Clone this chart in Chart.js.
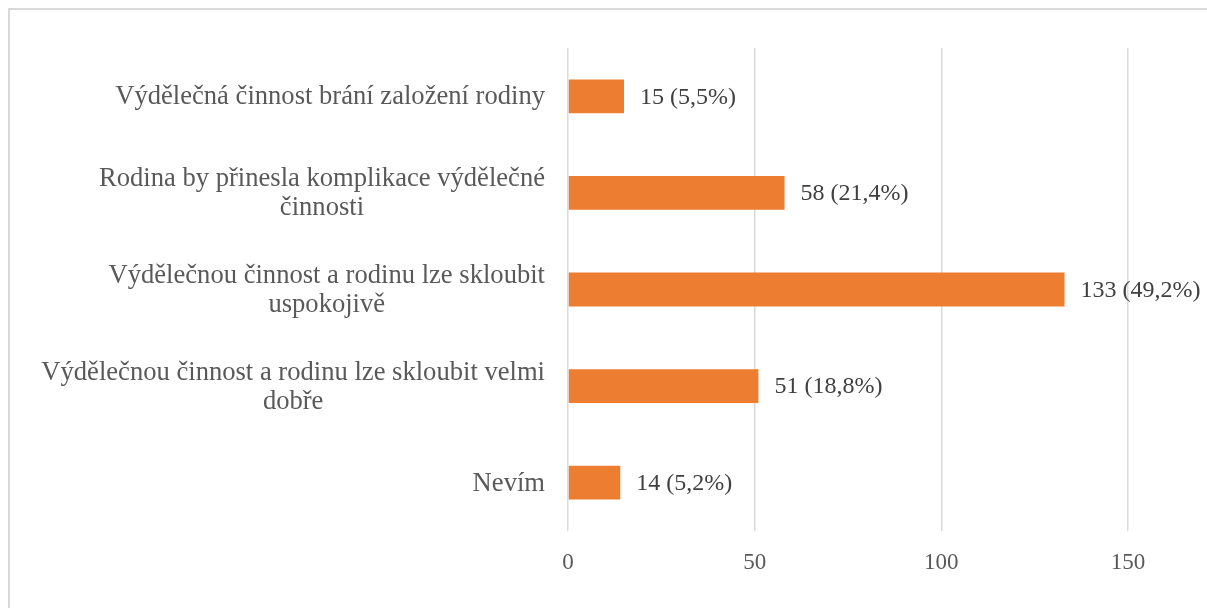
<!DOCTYPE html>
<html>
<head>
<meta charset="utf-8">
<script src="https://cdn.jsdelivr.net/npm/chart.js@4.4.1/dist/chart.umd.min.js"></script>
<style>
  html, body { margin: 0; padding: 0; background: #fff; }
  #wrap { position: relative; width: 1207px; height: 608px; }
  #frame { position: absolute; left: 8px; top: 8px; width: 1210px; height: 620px;
           border-left: 2px solid #d9d9d9; border-top: 2px solid #d9d9d9; box-sizing: border-box; }
  canvas { position: absolute; left: 0; top: 0; }
</style>
</head>
<body>
<div id="wrap">
  <div id="frame"></div>
  <canvas id="chart" width="1207" height="608"></canvas>
</div>
<script>
// kategorie (shora dolu)
var labels = [
	["Výdělečná činnost brání založení rodiny"],
	["Rodina by přinesla komplikace výdělečné", "činnosti"],
	["Výdělečnou činnost a rodinu lze skloubit", "uspokojivě"],
	["Výdělečnou činnost a rodinu lze skloubit velmi", "dobře"],
	["Nevím"]
];
var counts = [15, 58, 133, 51, 14];
var percents = ["5,5", "21,4", "49,2", "18,8", "5,2"];
var xTicks = [0, 50, 100, 150];

var FONT = "'Liberation Serif', 'Times New Roman', serif";

// popisky osy Y: zarovnane doprava jako blok, radky na stred
var yLabelsPlugin = {
	id: "yLabels",
	afterDraw: function(chart) {
		var ctx = chart.ctx;
		var scale = chart.scales.y;
		var right = 545, lineH = 29;
		ctx.save();
		ctx.font = "26.6px " + FONT;
		ctx.fillStyle = "#595959";
		ctx.textBaseline = "middle";
		ctx.textAlign = "center";
		labels.forEach(function(lines, i) {
			var w = Math.max.apply(null, lines.map(function(l) { return ctx.measureText(l).width; }));
			var cx = right - w / 2;
			var cy = scale.getPixelForValue(i) - (lines.length - 1) * lineH / 2 + 1;
			lines.forEach(function(l, k) { ctx.fillText(l, cx, cy + k * lineH); });
		});
		ctx.restore();
	}
};

// hodnoty za sloupci
var valueLabelsPlugin = {
	id: "valueLabels",
	afterDatasetsDraw: function(chart) {
		var ctx = chart.ctx;
		var meta = chart.getDatasetMeta(0);
		ctx.save();
		ctx.font = "24px " + FONT;
		ctx.fillStyle = "#404040";
		ctx.textBaseline = "middle";
		ctx.textAlign = "left";
		meta.data.forEach(function(bar, i) {
			ctx.fillText(counts[i] + " (" + percents[i] + "%)", bar.x + 16, bar.y + 1);
		});
		ctx.restore();
	}
};

var chart = new Chart(document.getElementById("chart"), {
	type: "bar",
	data: {
		labels: labels.map(function(l) { return l.join(" "); }),
		datasets: [{
			data: counts,
			backgroundColor: "#ED7D31",
			borderWidth: 0,
			barPercentage: 0.7,
			categoryPercentage: 0.5
		}]
	},
	options: {
		indexAxis: "y",
		responsive: false,
		animation: false,
		layout: { padding: { top: 48, right: 79, left: 0, bottom: 0 } },
		plugins: { legend: { display: false }, tooltip: { enabled: false } },
		scales: {
			x: {
				min: 0,
				max: 150,
				afterBuildTicks: function(axis) { axis.ticks = xTicks.map(function(v) { return { value: v }; }); },
				afterFit: function(axis) { axis.height = 77; },
				grid: { color: "#d9d9d9", lineWidth: 1.5, tickLength: 0, drawTicks: false },
				border: { display: false },
				ticks: { color: "#595959", padding: 18, font: { family: FONT, size: 23 } }
			},
			y: {
				afterFit: function(axis) { axis.width = 568; },
				grid: { display: false },
				border: { display: false },
				ticks: { display: false }
			}
		}
	},
	plugins: [yLabelsPlugin, valueLabelsPlugin]
});
</script>
</body>
</html>
